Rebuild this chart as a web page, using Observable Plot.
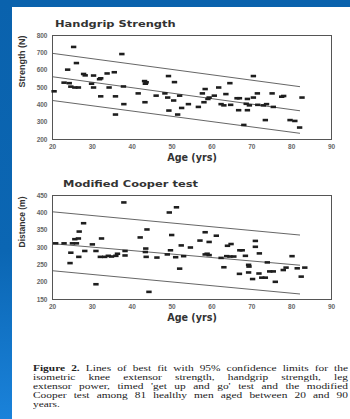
<!DOCTYPE html>
<html><head><meta charset="utf-8">
<script src="https://cdn.jsdelivr.net/npm/d3@7"></script>
<script src="https://cdn.jsdelivr.net/npm/@observablehq/plot@0.6"></script>
<style>
html,body{margin:0;padding:0;}
body{width:350px;height:419px;overflow:hidden;position:relative;background:linear-gradient(#0a62ad 0%,#0b66b3 60%,#1a82da 100%);}
#page{position:absolute;left:12px;top:7px;width:338px;height:412px;background:#fff;}
.title{position:absolute;font-family:"DejaVu Sans",sans-serif;font-weight:bold;font-size:9.4px;color:#333;white-space:nowrap;transform-origin:0 0;transform:scaleX(1.22);}
.chart{position:absolute;left:0;}
#cap{position:absolute;left:33px;top:364px;width:210px;transform-origin:0 0;transform:scaleX(1.5);font-family:"Liberation Serif",serif;font-size:7.6px;line-height:9px;color:#222;}
#cap div{white-space:nowrap;text-align:justify;text-align-last:justify;height:9px;}
#cap div.last{text-align-last:left;}
</style></head><body>
<div id="page"></div>
<div class="title" style="left:55px;top:18px;">Handgrip Strength</div>
<div class="title" style="left:63px;top:178px;">Modified Cooper test</div>
<div id="c1" class="chart" style="top:28px"></div>
<div id="c2" class="chart" style="top:188px"></div>
<div id="cap"></div>
<script>
// Caption lines
const captionLines = [
  "Lines of best fit with 95% confidence limits for the",
  "isometric knee extensor strength, handgrip strength, leg",
  "extensor power, timed 'get up and go' test and the modified",
  "Cooper test among 81 healthy men aged between 20 and 90",
  "years."
];
// Handgrip strength data (age, N)
const hgAge = [20.4,22.9,23.8,24.2,24.6,25.3,25.6,26,26.5,27.8,28.2,29.8,30.3,30.3,31.8,32.1,32.1,33.7,34.2,35.5,35.8,35.8,37.4,37.8,37.9,41.5,43.1,43.3,43.5,43.2,46,48.2,49.1,48.9,49.2,50.6,50.4,51.4,51.9,52.4,54.1,56.6,57.6,58.3,58,59,59.3,60.6,61.7,62.3,63,63.5,64.5,64.7,66.3,66.9,66.7,68,68.9,68.9,68.6,69.4,70.4,70.4,71.4,71.5,72.9,73.4,73.7,75.1,75.4,77.5,78,79.6,80.8,82,82.6];
const hgVal = [478,528,603,525,505,734,500,641,500,578,570,522,569,500,548,553,449,581,500,588,344,449,693,506,404,466,537,522,530,415,453,466,566,442,367,531,425,344,453,382,404,388,466,491,415,434,442,453,500,404,397,462,525,400,438,438,369,284,434,369,406,397,442,566,466,400,397,312,404,466,388,447,451,312,307,269,442];
// Cooper test data (age, m)
const ctAge = [20.8,22.9,24.4,24.6,25,25.6,26,26.5,26.6,26.7,27.8,28.1,30,30.9,30.9,32,32.3,33.1,34,34.8,35.9,36.3,37.9,38.2,38.2,42,43.3,43.4,43.5,43.7,44.2,46.2,48.8,49.3,49.6,49.9,50.9,51.1,51.9,52.3,52.9,54.6,57,58.3,58.3,58.8,59.3,59.3,61.1,62.3,63,63.7,63.9,64.8,64.5,65.5,66.9,67,67.6,68.4,69.2,69.3,69.2,70.2,70.9,70.9,71.8,71.9,72.5,73.4,73.9,74.5,75.4,75.9,77.9,78.6,80.1,81.4,82.4,83.3];
const ctVal = [312,312,255,285,312,324,312,326,273,346,370,290,309,290,194,273,326,273,276,274,276,282,430,290,277,329,287,297,273,352,172,271,280,401,292,336,272,416,239,306,275,300,320,344,280,282,316,278,334,270,243,275,305,310,274,274,224,292,292,276,250,245,228,209,319,302,225,283,213,213,257,231,231,201,235,242,275,240,216,242];
// Fitted lines (age endpoints) with 95% limits
const fitAge = [20, 82];
const hgFit = [562, 366], hgUpper = [697, 505], hgLower = [425, 236];
const ctFit = [311, 249], ctUpper = [403, 336], ctLower = [233, 166];

const cap = document.getElementById("cap");
captionLines.forEach((t, i) => {
  const d = document.createElement("div");
  if (i === captionLines.length - 1) d.className = "last";
  if (i === 0) { const b = document.createElement("b"); b.textContent = "Figure 2. "; d.append(b); }
  d.append(document.createTextNode(t));
  cap.append(d);
});

const dash = {draw(ctx, size){ const w = 5.4, h = 2.6; ctx.moveTo(-w/2,-h/2); ctx.lineTo(w/2,-h/2); ctx.lineTo(w/2,h/2); ctx.lineTo(-w/2,h/2); ctx.closePath(); }};

function chart(ages, vals, fit, up, lo, ydom, yticks, ylabel, ylSize){
  const pts = ages.map((a,i)=>({a, v: vals[i]}));
  const lines = [fit, up, lo].map(s => fitAge.map((a,i)=>({a, v: s[i]})));
  return Plot.plot({
    width: 350, height: 140,
    marginLeft: 52, marginRight: 19, marginTop: 7, marginBottom: 29,
    style: {fontFamily: "Liberation Sans, Arial, sans-serif", fontSize: "6.5px", fontWeight: "bold", color: "#666", background: "transparent"},
    x: {domain: [20, 90], ticks: [20,30,40,50,60,70,80,90], tickSize: 0, tickPadding: 5, label: null},
    y: {domain: ydom, ticks: yticks, tickSize: 0, tickPadding: 5, label: null},
    marks: [
      Plot.frame({stroke: "#555", strokeWidth: 1}),
      ...lines.map(l => Plot.line(l, {x: "a", y: "v", stroke: "#555", strokeWidth: 0.9})),
      Plot.dot(pts, {x: "a", y: "v", symbol: dash, r: 3, fill: "#1e1e1e", stroke: "none"}),
      Plot.text(["Age (yrs)"], {frameAnchor: "bottom", dy: 21, fontSize: 9.6, fontWeight: "bold", fill: "#333", fontFamily: "DejaVu Sans, sans-serif"}),
      Plot.text([ylabel], {frameAnchor: "left", dx: -30, rotate: -90, fontSize: ylSize, fontWeight: "bold", fill: "#333", fontFamily: "Liberation Sans Narrow, Liberation Sans, sans-serif"})
    ]
  });
}
document.getElementById("c1").append(chart(hgAge, hgVal, hgFit, hgUpper, hgLower, [200, 800], [200,300,400,500,600,700,800], "Strength (N)", 9));
document.getElementById("c2").append(chart(ctAge, ctVal, ctFit, ctUpper, ctLower, [150, 450], [150,200,250,300,350,400,450], "Distance (m)", 8.5));
</script>
</body></html>
